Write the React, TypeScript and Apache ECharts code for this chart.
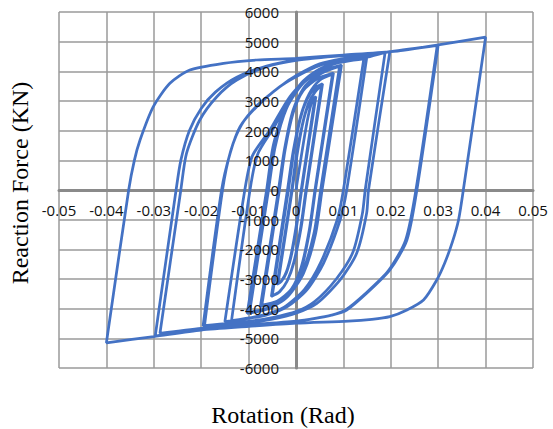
import React, { useEffect, useRef } from "react";
import * as echarts from "echarts";

// Tick settings
const xTicks = { min: -0.05, max: 0.05, interval: 0.01 };
const yTicks = { min: -6000, max: 6000, interval: 1000 };

// Hysteresis cycles: [rotation (rad), reaction force (kN)], in loading order
const start: number[][] = [[0, 0], [0.0020, 2000], [0.0032, 2900]];
const cycle1: number[][] = [
  [0.0040, 3100], [0.0011, 0], [0.0001, -1150], [-0.0010, -2150], [-0.0020, -2750], [-0.0030, -3050], [-0.0038, -3150],
  [-0.0008, 0], [0.0002, 1150], [0.0013, 2150], [0.0023, 2750], [0.0032, 3000],
];
const cycle2: number[][] = [
  [0.0042, 3150], [0.0012, 0], [0.0002, -1150], [-0.0009, -2150], [-0.0020, -2780], [-0.0031, -3080], [-0.0040, -3180],
  [-0.0009, 0], [0.0001, 1200], [0.0014, 2250], [0.0027, 2950], [0.0040, 3300],
];
const cycle3: number[][] = [
  [0.0054, 3540], [0.0021, 0], [0.0010, -1250], [-0.0004, -2400], [-0.0018, -3050], [-0.0034, -3420], [-0.0050, -3560],
  [-0.0016, 0], [-0.0005, 1250], [0.0009, 2400], [0.0023, 3050], [0.0039, 3420],
];
const cycle4: number[][] = [
  [0.0056, 3580], [0.0022, 0], [0.0011, -1250], [-0.0004, -2420], [-0.0019, -3080], [-0.0036, -3450], [-0.0052, -3590],
  [-0.0018, 0], [-0.0006, 1300], [0.0010, 2500], [0.0028, 3250], [0.0050, 3700],
];
const cycle5: number[][] = [
  [0.0077, 3900], [0.0040, 0], [0.0028, -1350], [0.0011, -2600], [-0.0010, -3350], [-0.0040, -3750], [-0.0072, -3880],
  [-0.0035, 0], [-0.0023, 1350], [-0.0006, 2600], [0.0015, 3350], [0.0045, 3750],
];
const cycle6: number[][] = [
  [0.0079, 3940], [0.0041, 0], [0.0029, -1350], [0.0012, -2620], [-0.0010, -3380], [-0.0042, -3790], [-0.0075, -3920],
  [-0.0037, 0], [-0.0024, 1400], [-0.0006, 2700], [0.0018, 3480], [0.0052, 3920],
];
const cycle7: number[][] = [
  [0.0092, 4170], [0.0052, 0], [0.0038, -1450], [0.0014, -2750], [-0.0018, -3550], [-0.0055, -3950], [-0.0098, -4120],
  [-0.0058, 0], [-0.0044, 1450], [-0.0020, 2750], [0.0014, 3580], [0.0052, 4000],
];
const cycle8: number[][] = [
  [0.0096, 4213], [0.0055, 0], [0.0041, -1500], [0.0016, -2800], [-0.0018, -3600], [-0.0058, -4000], [-0.0103, -4160],
  [-0.0062, 0], [-0.0048, 1500], [-0.0022, 2800], [0.0012, 3620], [0.0050, 4080], [0.0100, 4350],
];
const cycle9: number[][] = [
  [0.0149, 4436], [0.0107, 0], [0.0093, -1011], [0.0058, -2471], [0.0023, -3370], [-0.0020, -3950], [-0.0060, -4200], [-0.0100, -4330], [-0.0150, -4438],
  [-0.0108, 0], [-0.0092, 1150], [-0.0055, 2022], [-0.0013, 3145], [0.0030, 3850], [0.0080, 4250],
];
const cycle10: number[][] = [
  [0.0143, 4420], [0.0100, 0], [0.0087, -1000], [0.0052, -2450], [0.0018, -3350], [-0.0025, -3950], [-0.0070, -4220], [-0.0136, -4405],
  [-0.0097, 0], [-0.0081, 1200], [-0.0047, 2100], [-0.0008, 3200], [0.0035, 3900], [0.0090, 4330], [0.0150, 4480],
];
const cycle11: number[][] = [
  [0.0188, 4640], [0.0146, 0], [0.0140, -800], [0.0120, -2100], [0.0085, -3000], [0.0040, -3750], [0.0000, -4100], [-0.0050, -4300], [-0.0100, -4430], [-0.0193, -4570],
  [-0.0155, 0], [-0.0138, 1300], [-0.0115, 2200], [-0.0080, 2880], [-0.0030, 3530], [0.0000, 3850], [0.0050, 4250], [0.0100, 4430], [0.0150, 4540],
];
const cycle12: number[][] = [
  [0.0198, 4662], [0.0153, 0], [0.0149, -786], [0.0128, -2135], [0.0093, -3033], [0.0044, -3820], [0.0000, -4150], [-0.0050, -4350], [-0.0100, -4460], [-0.0196, -4584],
  [-0.0157, 0], [-0.0139, 1236], [-0.0118, 2135], [-0.0083, 2808], [-0.0034, 3483], [0.0000, 3820], [0.0050, 4200], [0.0100, 4400], [0.0150, 4520], [0.0200, 4665],
];
const cycle13: number[][] = [
  [0.0300, 4887], [0.0255, 0], [0.0234, -1685], [0.0198, -2696], [0.0149, -3483], [0.0107, -4044], [0.0075, -4220], [0.0040, -4330], [0.0000, -4420], [-0.0100, -4550], [-0.0200, -4680], [-0.0297, -4921],
  [-0.0253, 0], [-0.0243, 1000], [-0.0225, 2000], [-0.0200, 2750], [-0.0170, 3300], [-0.0125, 3800], [-0.0062, 4180], [0.0000, 4380], [0.0100, 4530], [0.0200, 4660],
];
const cycle14: number[][] = [
  [0.0298, 4875], [0.0253, 0], [0.0231, -1700], [0.0195, -2720], [0.0146, -3500], [0.0104, -4050], [0.0072, -4230], [0.0038, -4340], [0.0000, -4430], [-0.0100, -4540], [-0.0200, -4660], [-0.0287, -4831],
  [-0.0243, 0], [-0.0231, 1236], [-0.0203, 2359], [-0.0167, 3145], [-0.0125, 3707], [-0.0062, 4156], [0.0000, 4370], [0.0100, 4540], [0.0200, 4660], [0.0300, 4890],
];
const cycle15: number[][] = [
  [0.0400, 5150], [0.0353, 0], [0.0343, -1000], [0.0330, -1750], [0.0314, -2450], [0.0297, -3033], [0.0269, -3707], [0.0234, -4044], [0.0198, -4270], [0.0160, -4360], [0.0110, -4420], [0.0000, -4490], [-0.0100, -4600], [-0.0200, -4720], [-0.0300, -4940], [-0.0400, -5150],
  [-0.0353, 0], [-0.0341, 1000], [-0.0329, 1685], [-0.0301, 2808], [-0.0266, 3596], [-0.0224, 4044], [-0.0153, 4270], [-0.0083, 4382], [0.0000, 4440], [0.0100, 4550], [0.0200, 4665], [0.0300, 4890], [0.0400, 5150],
];

const cycles = [start, cycle1, cycle2, cycle3, cycle4, cycle5, cycle6, cycle7, cycle8, cycle9, cycle10, cycle11, cycle12, cycle13, cycle14, cycle15];

const xTitle = "Rotation (Rad)";
const yTitle = "Reaction Force (KN)";

const GRID = { left: 59, right: 20, top: 12, bottom: 61 };
const W = 553;
const H = 429;

export default function App() {
  const ref = useRef<HTMLDivElement>(null);
  useEffect(() => {
    if (!ref.current) return;
    const chart = echarts.init(ref.current, undefined, { renderer: "svg" });
    const data: number[][] = [];
    cycles.forEach((c) => c.forEach((p) => data.push(p)));
    const plotW = W - GRID.left - GRID.right;
    const plotH = H - GRID.top - GRID.bottom;
    // offsets that put each axis on the other axis' zero
    const xZeroFrac = (0 - xTicks.min) / (xTicks.max - xTicks.min);
    const yZeroFrac = (0 - yTicks.min) / (yTicks.max - yTicks.min);
    const labelFont = { fontFamily: "Open Sans", fontSize: 15, color: "#111" };
    const xBase = {
      type: "value",
      position: "bottom",
      offset: -plotH * yZeroFrac,
      min: xTicks.min,
      max: xTicks.max,
      interval: xTicks.interval,
      axisTick: { show: false },
    };
    const yBase = {
      type: "value",
      position: "left",
      offset: -plotW * xZeroFrac,
      min: yTicks.min,
      max: yTicks.max,
      interval: yTicks.interval,
      axisTick: { show: false },
    };
    chart.setOption({
      animation: false,
      backgroundColor: "#fff",
      grid: { ...GRID, containLabel: false, outerBoundsMode: "none" },
      xAxis: [
        {
          ...xBase,
          z: 0,
          axisLine: { show: true, onZero: false, lineStyle: { color: "#8a8a8a", width: 3 } },
          splitLine: { show: true, lineStyle: { color: "#9a9a9a", width: 1.5 } },
          axisLabel: { show: false },
        },
        {
          ...xBase,
          z: 10,
          axisLine: { show: false, onZero: false },
          splitLine: { show: false },
          axisLabel: {
            ...labelFont,
            margin: 12,
            formatter: (v: number) => String(Math.round(v * 100) / 100),
          },
        },
      ],
      yAxis: [
        {
          ...yBase,
          z: 0,
          axisLine: { show: true, onZero: false, lineStyle: { color: "#8a8a8a", width: 3 } },
          splitLine: { show: true, lineStyle: { color: "#9a9a9a", width: 1.5 } },
          axisLabel: { show: false },
        },
        {
          ...yBase,
          z: 10,
          axisLine: { show: false, onZero: false },
          splitLine: { show: false },
          axisLabel: { ...labelFont, margin: 17, formatter: (v: number) => String(v) },
        },
      ],
      series: [
        {
          type: "line",
          xAxisIndex: 0,
          yAxisIndex: 0,
          data,
          showSymbol: false,
          smooth: 0.25,
          z: 3,
          lineStyle: { color: "#4472C4", width: 2.75 },
          itemStyle: { color: "#4472C4" },
        },
      ],
      graphic: [
        {
          type: "text",
          x: 283,
          y: 415,
          style: {
            text: xTitle,
            fontFamily: "Liberation Serif",
            fontSize: 24,
            fill: "#000",
            align: "center",
            verticalAlign: "middle",
          },
        },
        {
          type: "text",
          x: 20,
          y: 183,
          rotation: Math.PI / 2,
          style: {
            text: yTitle,
            fontFamily: "Liberation Serif",
            fontSize: 24,
            fill: "#000",
            align: "center",
            verticalAlign: "middle",
          },
        },
      ],
    });
    return () => chart.dispose();
  }, []);
  return <div ref={ref} style={{ width: W, height: H, position: "absolute", left: 0, top: 0 }} />;
}
